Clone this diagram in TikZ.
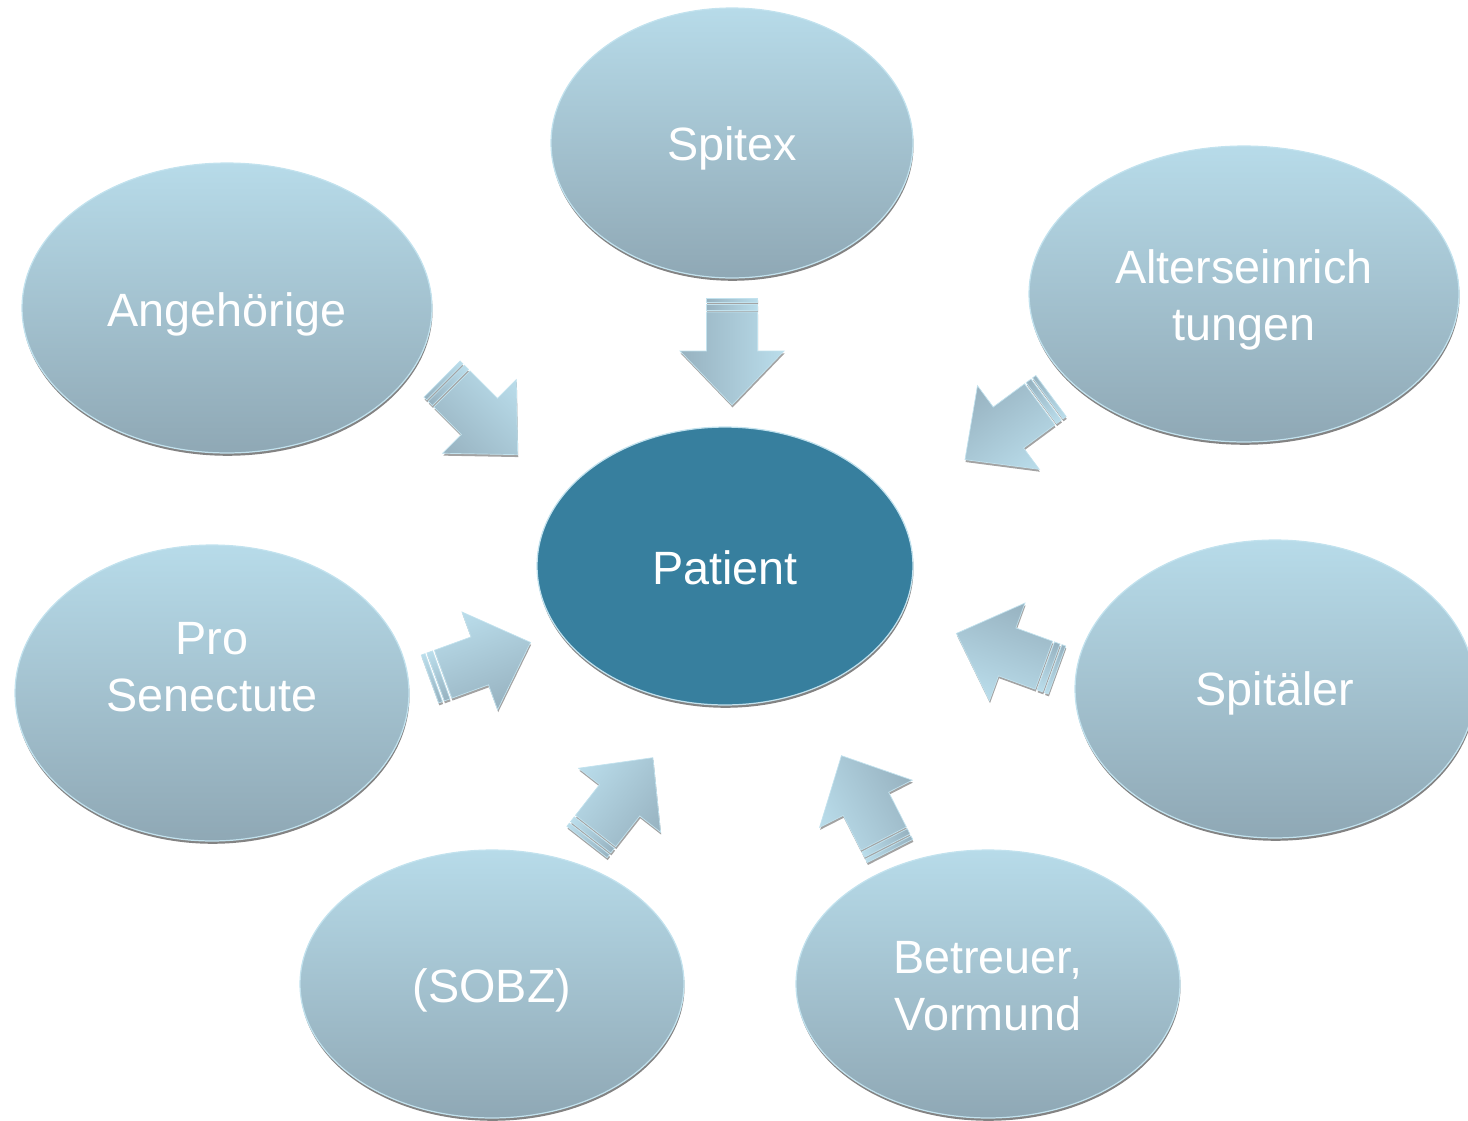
\documentclass[tikz,border=0pt]{standalone}
\usepackage{fontspec}
\setmainfont{Liberation Sans}
\usetikzlibrary{shapes.geometric,shadows}
\definecolor{satlight}{HTML}{B7DBE9}
\definecolor{satdark}{HTML}{8FA8B5}
\definecolor{hubteal}{HTML}{377F9E}
\definecolor{rimblue}{HTML}{C2E2EE}
\definecolor{arrlight}{HTML}{BADDEB}
\definecolor{arrdark}{HTML}{97B2C0}
\tikzset{
  bubble/.style={ellipse, draw=rimblue, line width=0.7pt, inner sep=0pt,
    drop shadow={shadow xshift=0.3pt, shadow yshift=-1.6pt, fill=black!65, opacity=.75}},
  satellite/.style={bubble, top color=satlight, bottom color=satdark},
  hub/.style={bubble, fill=hubteal},
  words/.style={text=white, align=center, inner sep=0pt, yshift=-0.08cm,
    font=\fontsize{26.6}{32.3}\selectfont},
  arrpart/.style={top color=arrlight, bottom color=arrdark, draw=rimblue, line width=0.4pt},
  arrshadow/.style={fill=black!60, opacity=.6}
}
% striped block arrow: #1 = tail, #2 = direction
\newcommand\arrowoutline{%
  (0,-25.5) rectangle (4,25.5) (6,-25.5) rectangle (12,25.5)
  (14,-25.5) -- (53,-25.5) -- (53,-52) -- (107,0) -- (53,52) -- (53,25.5) -- (14,25.5) -- cycle}
\newcommand\feedarrow[2]{%
  \begin{scope}[transform canvas={shift={#1},shift={(0.6,2.4)},rotate=#2}]
    \fill[arrshadow] \arrowoutline;
  \end{scope}
  \begin{scope}[transform canvas={shift={#1},rotate=#2}]
    \shade[arrpart] (0,-25.5) rectangle (4,25.5);
    \shade[arrpart] (6,-25.5) rectangle (12,25.5);
    \shade[arrpart] (14,-25.5) -- (53,-25.5) -- (53,-52) -- (107,0)
      -- (53,52) -- (53,25.5) -- (14,25.5) -- cycle;
  \end{scope}}

\begin{document}
\begin{tikzpicture}[x=0.02cm,y=-0.02cm]
  \useasboundingbox (0,0) rectangle (1468,1120);

  % arrows towards the patient
  \feedarrow{(732,298)}{-90}
  \feedarrow{(442,379)}{-45}
  \feedarrow{(1051,396)}{216.5}
  \feedarrow{(430,679)}{20}
  \feedarrow{(1057,670)}{160}
  \feedarrow{(587,842)}{52}
  \feedarrow{(890,851)}{117}

  % outer circle of partners
  \node[satellite, minimum width=7.24cm, minimum height=5.40cm,
    label={[words, yshift=-0.02cm]center:Spitex}] (spitex) at (732,143) {};
  \node[satellite, minimum width=8.20cm, minimum height=5.80cm,
    label={[words, yshift=-0.04cm]center:Angehörige}] (angeh) at (227,308) {};
  \node[satellite, minimum width=8.60cm, minimum height=5.92cm,
    label={[words, yshift=-0.04cm]center:{Alterseinrich\\tungen}}] (alters) at (1244,294) {};
  \node[satellite, minimum width=7.88cm, minimum height=5.92cm,
    label={[words, yshift=0.04cm]center:{Pro\\Senectute\\\mbox{}}}] (prosen) at (212,693) {};
  \node[satellite, minimum width=8.00cm, minimum height=5.96cm,
    label={[words]center:Spitäler}] (spital) at (1275,689) {};
  \node[satellite, minimum width=7.68cm, minimum height=5.36cm,
    label={[words, yshift=-0.04cm]center:(SOBZ)}] (sobz) at (492,984) {};
  \node[satellite, minimum width=7.68cm, minimum height=5.36cm,
    label={[words, yshift=0.04cm]center:{Betreuer,\\Vormund}}] (betreuer) at (988,984) {};

  % centre
  \node[hub, minimum width=7.52cm, minimum height=5.56cm,
    label={[words, yshift=0.04cm]center:Patient}] (patient) at (725,566) {};
\end{tikzpicture}
\end{document}
